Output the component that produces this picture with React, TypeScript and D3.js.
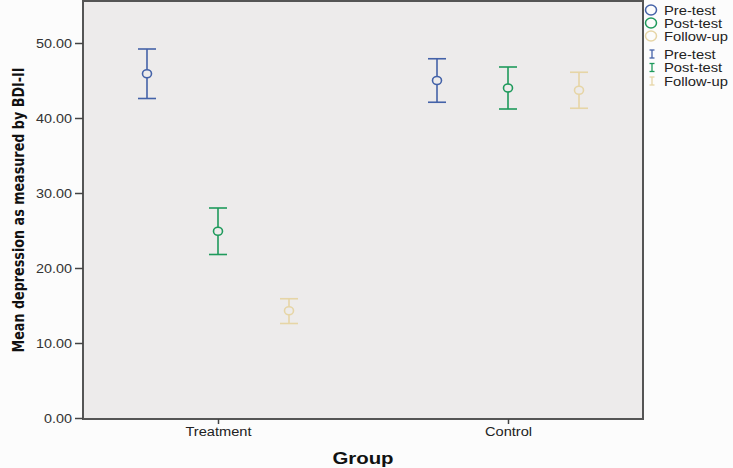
import React, { useEffect, useRef } from 'react';
import * as d3 from 'd3';

const groups = ['Treatment', 'Control'];
const series = ['Pre-test', 'Post-test', 'Follow-up'];
const colors = ['#4462a8', '#1f9a5c', '#e6d5a6'];
// mean, lower CI, upper CI per group for each series
const means = [
  [45.9, 45.0],
  [24.9, 44.0],
  [14.3, 43.7],
];
const lower = [
  [42.6, 42.1],
  [21.8, 41.2],
  [12.6, 41.3],
];
const upper = [
  [49.2, 47.9],
  [28.0, 46.8],
  [15.9, 46.1],
];
const yTicks = [0, 10, 20, 30, 40, 50];

// the reference text is a bit wider than Arial, so stretch it
function stretch(sel, k) {
  sel.each(function () {
    const len = this.getComputedTextLength();
    d3.select(this).attr('textLength', len * k).attr('lengthAdjust', 'spacingAndGlyphs');
  });
}

export default function App() {
  const svgRef = useRef(null);

  useEffect(() => {
    const svg = d3.select(svgRef.current);
    svg.selectAll('*').remove();

    const left = 83;
    const right = 643;
    const top = 1;
    const bottom = 419;
    const font = 'Liberation Sans, Arial, sans-serif';

    const y = d3.scaleLinear().domain([0, 50]).range([418, 43]);
    const x = d3.scalePoint().domain(groups).range([left, right]).padding(0.4655);
    const offset = d3.scalePoint().domain(series).range([-71, 71]);

    svg.append('rect').attr('width', 733).attr('height', 468).attr('fill', '#fcfcfc');

    svg
      .append('rect')
      .attr('x', left)
      .attr('y', top)
      .attr('width', right - left)
      .attr('height', bottom - top)
      .attr('fill', '#edebeb')
      .attr('stroke', '#555')
      .attr('stroke-width', 2);

    // y axis
    const yAxis = svg
      .append('g')
      .attr('transform', `translate(${left},0)`)
      .call(
        d3
          .axisLeft(y)
          .tickValues(yTicks)
          .tickSize(8)
          .tickPadding(3)
          .tickFormat((d) => d3.format('.2f')(d))
      );
    yAxis.select('.domain').remove();
    yAxis.selectAll('line').attr('stroke', '#444').attr('stroke-width', 1.5);
    yAxis
      .selectAll('text')
      .attr('fill', '#333')
      .style('font-family', font)
      .style('font-size', '12.5px')
      .call(stretch, 1.15);

    // x axis
    const xAxis = svg
      .append('g')
      .attr('transform', `translate(0,${bottom})`)
      .call(d3.axisBottom(x).tickSize(5).tickPadding(3));
    xAxis.select('.domain').remove();
    xAxis.selectAll('line').attr('stroke', '#444').attr('stroke-width', 1.5);
    xAxis
      .selectAll('text')
      .attr('fill', '#222')
      .style('font-family', font)
      .style('font-size', '12.5px')
      .call(stretch, 1.17);

    // axis titles
    svg
      .append('text')
      .attr('x', 363)
      .attr('y', 464)
      .attr('text-anchor', 'middle')
      .attr('fill', '#111')
      .style('font-family', font)
      .style('font-weight', 'bold')
      .style('font-size', '17px')
      .text('Group')
      .call(stretch, 1.2);

    svg
      .append('text')
      .attr('transform', 'translate(24,210) rotate(-90)')
      .attr('text-anchor', 'middle')
      .attr('fill', '#111')
      .attr('textLength', 285)
      .attr('lengthAdjust', 'spacingAndGlyphs')
      .style('font-family', 'DejaVu Sans Condensed, DejaVu Sans, sans-serif')
      .style('font-weight', 'bold')
      .style('font-size', '16px')
      .text('Mean depression as measured by BDI-II');

    // error bars and means
    series.forEach((s, si) => {
      const g = svg.append('g').attr('stroke', colors[si]).attr('fill', 'none');
      groups.forEach((grp, gi) => {
        const cx = x(grp) + offset(s);
        g.append('line')
          .attr('x1', cx)
          .attr('x2', cx)
          .attr('y1', y(upper[si][gi]))
          .attr('y2', y(lower[si][gi]))
          .attr('stroke-width', 1.6);
        [upper[si][gi], lower[si][gi]].forEach((v) => {
          g.append('line')
            .attr('x1', cx - 9)
            .attr('x2', cx + 9)
            .attr('y1', y(v))
            .attr('y2', y(v))
            .attr('stroke-width', 1.6);
        });
        g.append('ellipse')
          .attr('cx', cx)
          .attr('cy', y(means[si][gi]))
          .attr('rx', 4.5)
          .attr('ry', 4)
          .attr('fill', '#edebeb')
          .attr('stroke-width', 1.6);
      });
    });

    // legend
    const legend = svg.append('g');
    series.forEach((s, si) => {
      const ly = 10 + si * 13;
      legend
        .append('ellipse')
        .attr('cx', 651)
        .attr('cy', ly)
        .attr('rx', 5.5)
        .attr('ry', 5)
        .attr('fill', 'none')
        .attr('stroke', colors[si])
        .attr('stroke-width', 1.5);
      legend
        .append('text')
        .attr('x', 664)
        .attr('y', ly + 4.5)
        .attr('fill', '#222')
        .style('font-family', font)
        .style('font-size', '12.5px')
        .text(s)
        .call(stretch, 1.18);
    });
    series.forEach((s, si) => {
      const ly = 54 + si * 13.5;
      const ig = legend.append('g').attr('stroke', colors[si]).attr('stroke-width', 1.3);
      ig.append('line').attr('x1', 652).attr('x2', 652).attr('y1', ly - 4).attr('y2', ly + 4);
      ig.append('line').attr('x1', 649.5).attr('x2', 654.5).attr('y1', ly - 4).attr('y2', ly - 4);
      ig.append('line').attr('x1', 649.5).attr('x2', 654.5).attr('y1', ly + 4).attr('y2', ly + 4);
      legend
        .append('text')
        .attr('x', 664)
        .attr('y', ly + 4.5)
        .attr('fill', '#222')
        .style('font-family', font)
        .style('font-size', '12.5px')
        .text(s)
        .call(stretch, 1.18);
    });
  }, []);

  return (
    <svg
      ref={svgRef}
      width={733}
      height={468}
      style={{ position: 'absolute', left: 0, top: 0, display: 'block' }}
    />
  );
}
